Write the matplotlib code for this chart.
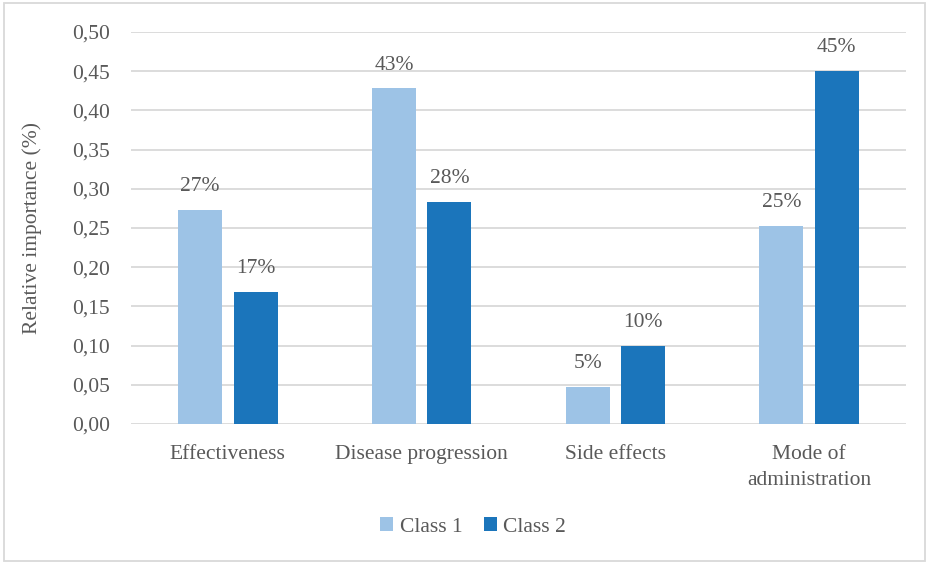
import numpy as np
import matplotlib.pyplot as plt
from matplotlib.patches import Rectangle
from matplotlib.ticker import FuncFormatter

categories = ['Effectiveness', 'Disease progression', 'Side effects', 'Mode of\nadministration']
class1 = [0.273, 0.428, 0.047, 0.253]
class2 = [0.168, 0.283, 0.099, 0.450]
labels1 = ['27%', '43%', '5%', '25%']
labels2 = ['17%', '28%', '10%', '45%']

c1 = '#9DC3E6'
c2 = '#1B75BB'
txt = '#595959'

plt.rcParams['font.family'] = ['Liberation Serif', 'DejaVu Serif']

fig = plt.figure(figsize=(9.29, 5.63), dpi=100)
ax = fig.add_axes([131/929, 1-424/563, (906-131)/929, (424-32)/563])

x = np.arange(len(categories))
w = 0.227
ax.bar(x - 0.143, class1, w, color=c1, label='Class 1', zorder=2)
ax.bar(x + 0.143, class2, w, color=c2, label='Class 2', zorder=2)

for i in range(len(categories)):
    ax.annotate(labels1[i], (x[i] - 0.143, class1[i]), xytext=(0, 10), textcoords='offset points',
                ha='center', va='bottom', fontsize=15.5, color=txt)
    ax.annotate(labels2[i], (x[i] + 0.143, class2[i]), xytext=(0, 10), textcoords='offset points',
                ha='center', va='bottom', fontsize=15.5, color=txt)

ax.set_xlim(-0.5, 3.5)
ax.set_ylim(0, 0.5)
ax.set_yticks(np.arange(0, 0.501, 0.05))
ax.yaxis.set_major_formatter(FuncFormatter(lambda v, p: ('%.2f' % v).replace('.', ',')))
ax.set_xticks(x)
ax.set_xticklabels(categories, linespacing=1.5)
ax.tick_params(axis='both', length=0, labelsize=15.5, labelcolor=txt)
ax.tick_params(axis='y', pad=15)
ax.tick_params(axis='x', pad=15)
ax.grid(axis='y', color='#D9D9D9', linewidth=1.3, zorder=0)
for s in ax.spines.values():
    s.set_visible(False)
ax.set_ylabel('Relative importance (%)', fontsize=15.5, color=txt, labelpad=22)

fig.legend(*ax.get_legend_handles_labels(), loc='center', bbox_to_anchor=(473/929, 1-527/563),
           ncol=2, frameon=False, fontsize=15.5,
           handlelength=0.6, handleheight=0.6, handletextpad=0.3, columnspacing=1.0,
           labelcolor=txt)

fig.patches.append(Rectangle((4/929, 2/563), 921/929, 558/563, transform=fig.transFigure,
                             fill=False, edgecolor='#D9D9D9', linewidth=1.3))

fig.savefig('out.png', dpi=100)
